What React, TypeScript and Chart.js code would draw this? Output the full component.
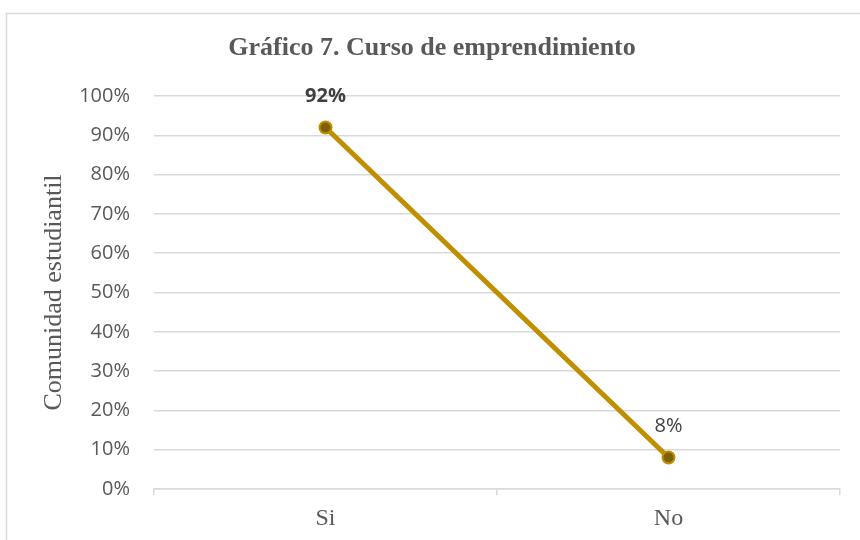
import React, { useEffect, useRef } from "react";
import { Chart, registerables } from "chart.js";

Chart.register(...registerables);

const categories = ["Si", "No"];
const values = [0.92, 0.08];
const valueLabels = ["92%", "8%"];
const labelBold = [true, false];
const chartTitle = "Gráfico 7. Curso de emprendimiento";
const yAxisTitle = "Comunidad estudiantil";

const GRID = "#D9D9D9";
const TEXT = "#595959";

const framePlugin = {
  id: "frame",
  beforeDraw(chart: any) {
    const ctx = chart.ctx;
    ctx.save();
    ctx.fillStyle = "#ffffff";
    ctx.fillRect(0, 0, chart.width, chart.height);
    ctx.strokeStyle = GRID;
    ctx.lineWidth = 1.5;
    ctx.beginPath();
    ctx.moveTo(6.5, chart.height);
    ctx.lineTo(6.5, 13.5);
    ctx.lineTo(chart.width, 13.5);
    ctx.stroke();
    ctx.fillStyle = TEXT;
    ctx.font = "bold 26px 'Liberation Serif', 'Times New Roman', serif";
    ctx.textAlign = "center";
    ctx.textBaseline = "middle";
    ctx.fillText(chartTitle, 432, 48);
    ctx.restore();
  },
};

const labelPlugin = {
  id: "valueLabels",
  afterDatasetsDraw(chart: any) {
    const ctx = chart.ctx;
    const meta = chart.getDatasetMeta(0);
    ctx.save();
    ctx.fillStyle = "#404040";
    ctx.textAlign = "center";
    ctx.textBaseline = "middle";
    meta.data.forEach((pt: any, i: number) => {
      ctx.font = (labelBold[i] ? "bold " : "") + "20px 'Open Sans', sans-serif";
      ctx.fillText(valueLabels[i], pt.x, pt.y - 31);
    });
    ctx.restore();
  },
};

export default function App() {
  const ref = useRef<HTMLCanvasElement | null>(null);
  useEffect(() => {
    if (!ref.current) return;
    const chart = new Chart(ref.current, {
      type: "line",
      data: {
        labels: categories,
        datasets: [
          {
            data: values,
            borderColor: "#BF8F00",
            borderWidth: 5,
            pointRadius: 6,
            pointBorderWidth: 2,
            pointBackgroundColor: "#7F6000",
            pointBorderColor: "#BF8F00",
            tension: 0,
          },
        ],
      },
      options: {
        responsive: false,
        animation: false,
        layout: { padding: { top: 96, right: 20, left: 0, bottom: 0 } },
        plugins: {
          legend: { display: false },
          title: { display: false },
          tooltip: { enabled: false },
        },
        scales: {
          x: {
            offset: true,
            grid: {
              display: true,
              drawOnChartArea: false,
              offset: true,
              tickLength: 6,
              color: GRID,
              lineWidth: 1.5,
            },
            border: { display: true, color: GRID, width: 1.5 },
            ticks: {
              color: TEXT,
              padding: 9,
              font: { family: "'Liberation Serif', 'Times New Roman', serif", size: 24 },
            },
            afterFit(scale: any) {
              scale.height = 51;
            },
          },
          y: {
            min: 0,
            max: 1,
            ticks: {
              stepSize: 0.1,
              color: TEXT,
              padding: 24,
              font: { family: "'Open Sans', sans-serif", size: 20 },
              callback: (v: any) => Math.round(Number(v) * 100) + "%",
            },
            grid: { color: GRID, lineWidth: 1.5, drawTicks: false },
            border: { display: false },
            title: {
              display: true,
              text: yAxisTitle,
              color: TEXT,
              padding: { top: 39, bottom: 0 },
              font: { family: "'Liberation Serif', 'Times New Roman', serif", size: 26, weight: "normal" },
            },
            afterFit(scale: any) {
              scale.width = 154;
            },
          },
        },
      },
      plugins: [framePlugin, labelPlugin],
    });
    return () => chart.destroy();
  }, []);
  return (
    <div style={{ position: "fixed", left: 0, top: 0, width: 860, height: 540, background: "#fff" }}>
      <canvas ref={ref} width={860} height={540} />
    </div>
  );
}
